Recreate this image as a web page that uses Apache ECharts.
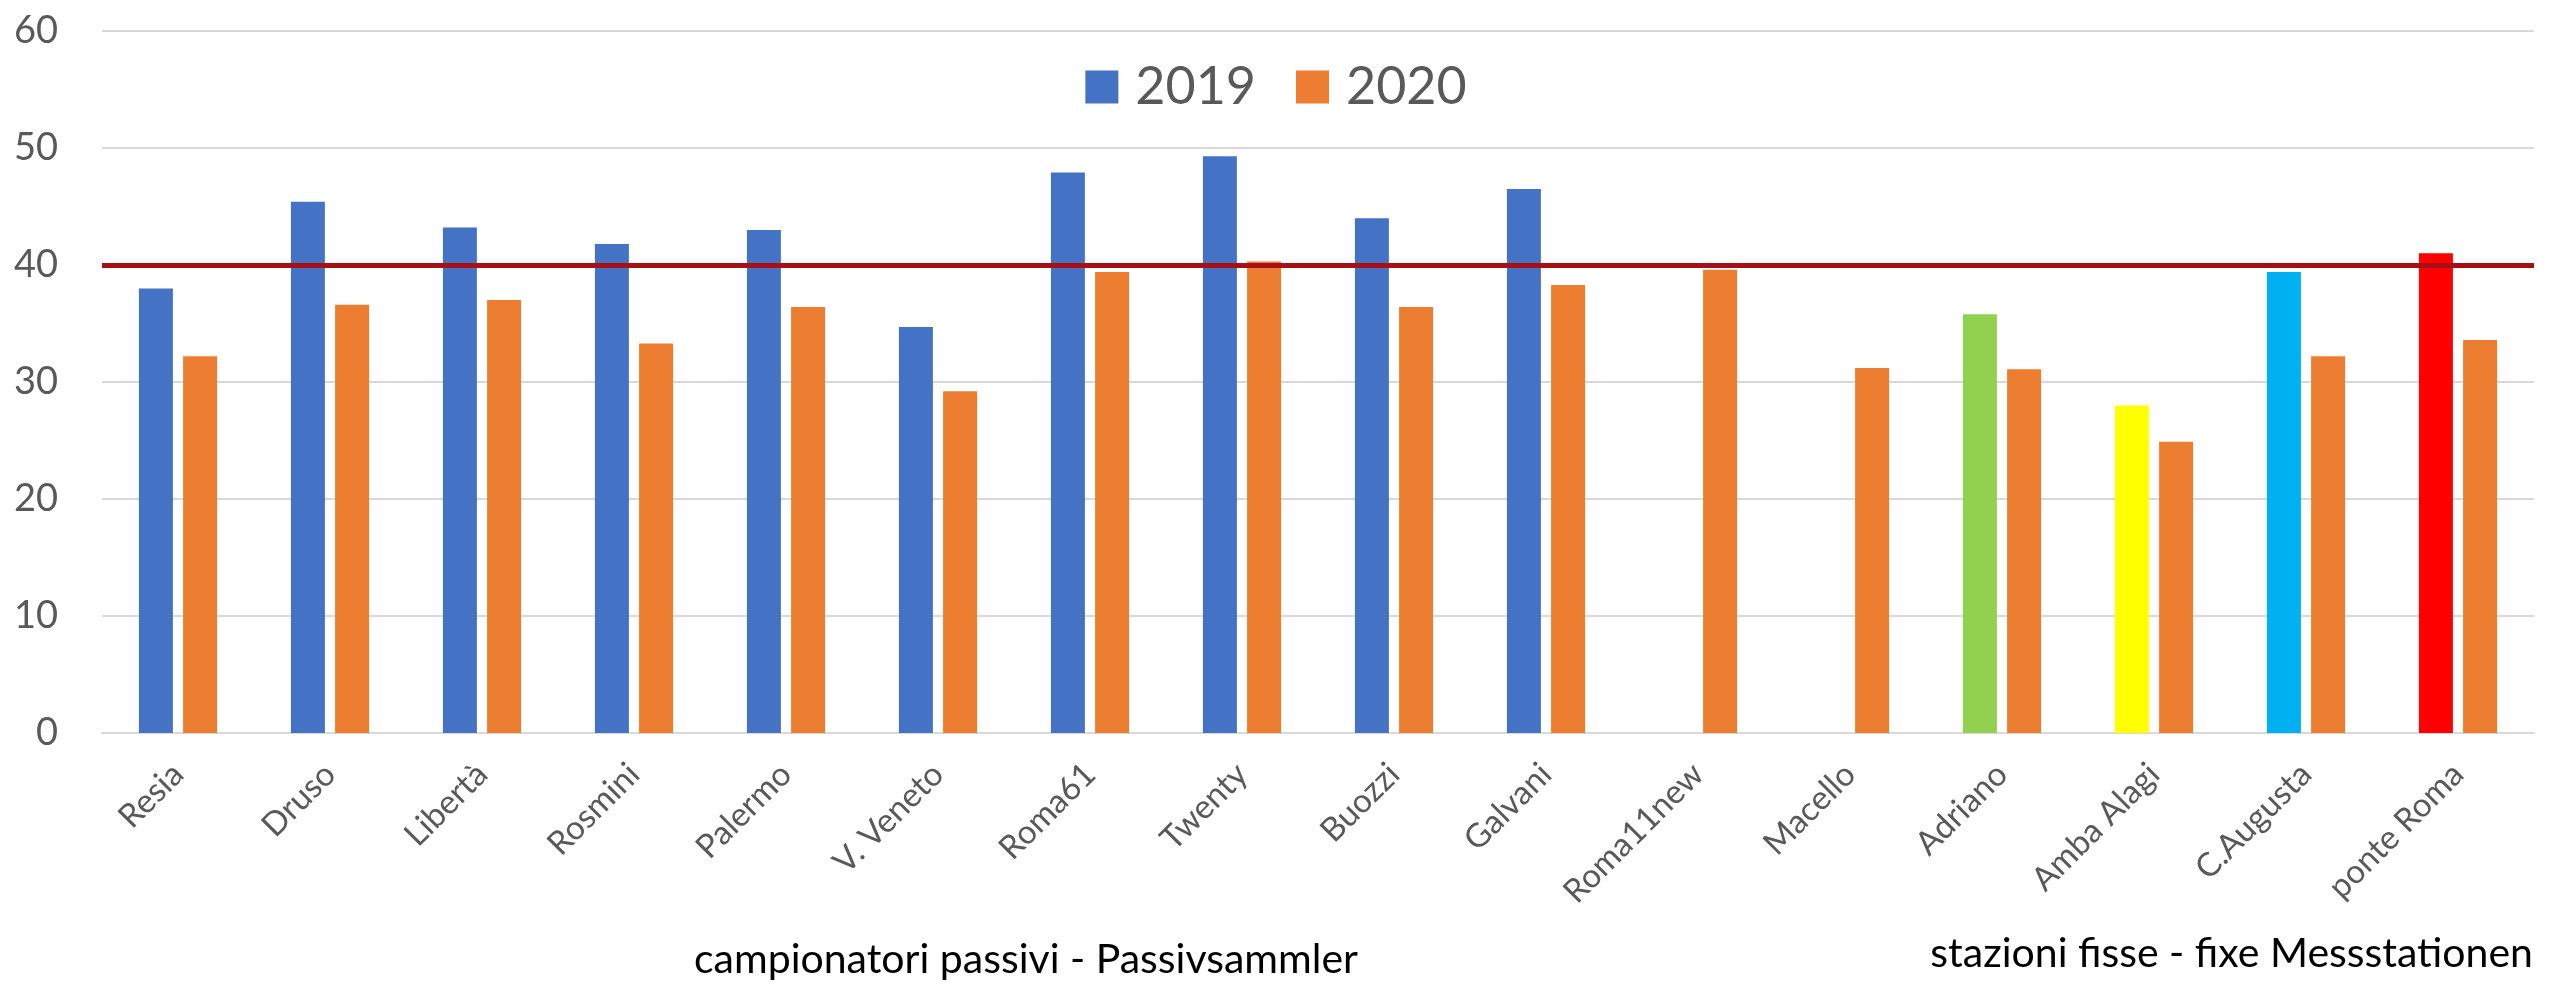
<!DOCTYPE html>
<html>
<head>
<meta charset="utf-8">
<script src="https://cdn.jsdelivr.net/npm/echarts@6/dist/echarts.min.js"></script>
<style>
html,body{margin:0;padding:0;background:#fff;}
#chart{width:2552px;height:985px;}
</style>
</head>
<body>
<div id="chart"></div>
<script>
// ---- data ----
const categories = ['Resia','Druso','Libertà','Rosmini','Palermo','V. Veneto','Roma61','Twenty','Buozzi','Galvani','Roma11new','Macello','Adriano','Amba Alagi','C.Augusta','ponte Roma'];
const values2019 = [38.0, 45.4, 43.2, 41.8, 43.0, 34.7, 47.9, 49.3, 44.0, 46.5, null, null, 35.8, 28.0, 39.4, 41.0];
const values2020 = [32.2, 36.6, 37.0, 33.3, 36.4, 29.2, 39.4, 40.3, 36.4, 38.3, 39.6, 31.2, 31.1, 24.9, 32.2, 33.6];
const seriesNames = ['2019', '2020'];
const limitValue = 40;
const yTicks = {min: 0, max: 60, interval: 10};
const groupLabels = ['campionatori passivi - Passivsammler', 'stazioni fisse - fixe Messstationen'];

// ---- styles ----
const FONT = 'Lato, "Open Sans", sans-serif';
const blue = '#4472C4', orange = '#ED7D31';
const pointColors2019 = [blue, blue, blue, blue, blue, blue, blue, blue, blue, blue, blue, blue, '#92D050', '#FFFF00', '#00B0F0', '#FF0000'];

const data2019 = values2019.map((v, i) => ({value: v, itemStyle: {color: pointColors2019[i]}}));

const chart = echarts.init(document.getElementById('chart'), null, {renderer: 'canvas'});
chart.setOption({
  animation: false,
  backgroundColor: '#ffffff',
  textStyle: {fontFamily: FONT},
  grid: {left: 102, right: 18, top: 31, bottom: 252},
  legend: {
    data: seriesNames,
    left: 'center',
    top: 56,
    icon: 'rect',
    itemWidth: 33,
    itemHeight: 33,
    itemGap: 40,
    textStyle: {fontSize: 52, color: '#595959', fontFamily: FONT, padding: [0, 0, 0, 12]}
  },
  xAxis: {
    type: 'category',
    data: categories,
    axisTick: {show: false},
    axisLine: {lineStyle: {color: '#D9D9D9', width: 2}},
    axisLabel: {interval: 0, rotate: 45, fontSize: 33, color: '#595959', margin: 36, fontFamily: FONT}
  },
  yAxis: {
    type: 'value',
    min: yTicks.min, max: yTicks.max, interval: yTicks.interval,
    axisLine: {show: false},
    axisTick: {show: false},
    splitLine: {lineStyle: {color: '#D9D9D9', width: 2}},
    axisLabel: {fontSize: 38, color: '#595959', margin: 44, fontFamily: FONT}
  },
  series: [
    {
      name: seriesNames[0],
      type: 'bar',
      data: data2019,
      barWidth: 34,
      barGap: '30%',
      itemStyle: {color: blue}
    },
    {
      name: seriesNames[1],
      type: 'bar',
      data: values2020,
      barWidth: 34,
      itemStyle: {color: orange},
      markLine: {
        silent: true,
        symbol: 'none',
        label: {show: false},
        lineStyle: {color: '#A50F15', width: 5, type: 'solid'},
        data: [{yAxis: limitValue}]
      }
    }
  ],
  graphic: [
    {type: 'text', x: 1026, y: 960, style: {text: groupLabels[0], align: 'center', verticalAlign: 'middle', font: '41px ' + FONT, fill: '#000000'}},
    {type: 'text', x: 2533, y: 954, style: {text: groupLabels[1], align: 'right', verticalAlign: 'middle', font: '41px ' + FONT, fill: '#000000'}}
  ]
});
</script>
</body>
</html>
